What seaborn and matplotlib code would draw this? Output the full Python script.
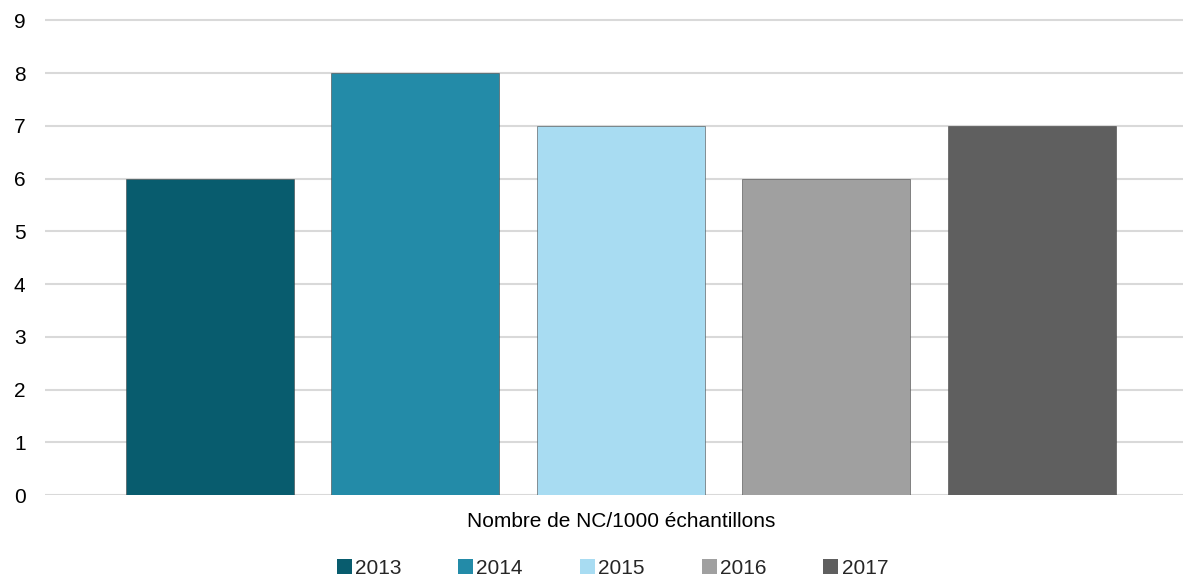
import matplotlib
matplotlib.use("Agg")
import matplotlib.pyplot as plt
import seaborn as sns
import pandas as pd

# Data
category = "Nombre de NC/1000 échantillons"
years = ["2013", "2014", "2015", "2016", "2017"]
values = [6, 8, 7, 6, 7]
colors = ["#085C6E", "#238BA8", "#A8DCF2", "#A0A0A0", "#5F5F5F"]
y_ticks = list(range(0, 10))

df = pd.DataFrame({"cat": [category] * len(years), "year": years, "value": values})

sns.set_theme(style="white")
plt.rcParams["font.family"] = ["Liberation Sans", "DejaVu Sans"]

fig = plt.figure(figsize=(11.83, 5.79), dpi=100)
ax = fig.add_axes([0.038, 0.1446, 0.962, 0.8296])

sns.barplot(
    data=df, x="cat", y="value", hue="year", hue_order=years,
    palette=colors, saturation=1, width=0.903, gap=0.182, dodge=True,
    edgecolor=(0.25, 0.25, 0.25, 0.55), linewidth=0.7,
    legend=True, ax=ax, zorder=3,
)

ax.set_xlim(-0.5059, 0.4941)
ax.set_ylim(0, 9.1)
ax.set_yticks(y_ticks)
ax.set_yticklabels([str(t) for t in y_ticks])
ax.yaxis.grid(True, color="#D9D9D9", linewidth=1.5)
ax.set_axisbelow(True)
for s in ax.spines.values():
    s.set_visible(False)
ax.tick_params(axis="y", length=0, pad=14, labelsize=15, colors="#000000")
ax.tick_params(axis="x", length=0, pad=12, labelsize=15, colors="#000000")
ax.set_xlabel("")
ax.set_ylabel("")

handles, labels = ax.get_legend_handles_labels()
ax.legend(
    handles, labels, loc="lower center", bbox_to_anchor=(0.4986, -0.190),
    ncol=5, frameon=False, fontsize=15,
    handlelength=0.72, handleheight=0.72, handletextpad=0.15,
    columnspacing=2.74, borderaxespad=0,
)
for h in ax.get_legend().legend_handles:
    h.set_edgecolor("none")

fig.savefig("out.png", dpi=100)
